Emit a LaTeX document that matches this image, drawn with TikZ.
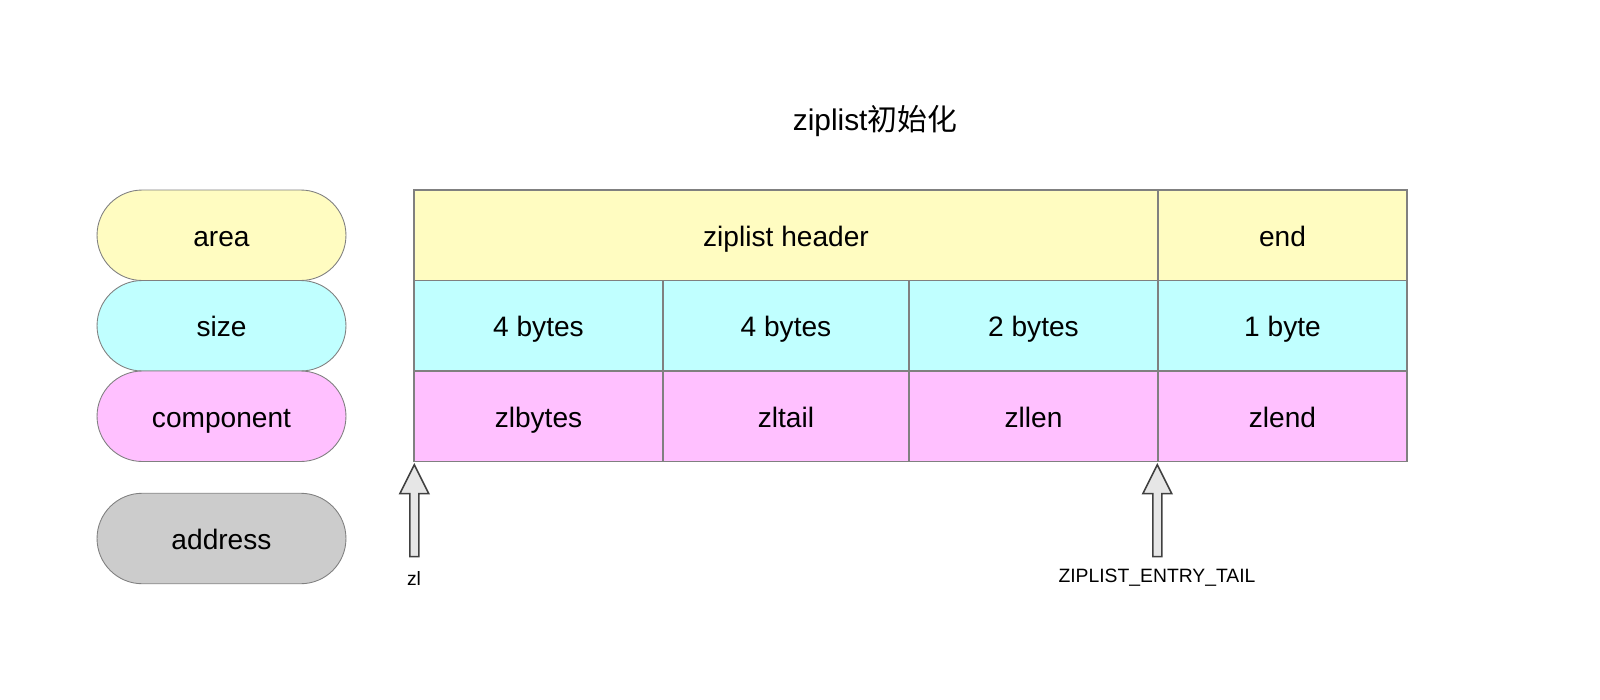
\documentclass[tikz,border=0pt]{standalone}
\usepackage{fontspec}
\setmainfont{Liberation Sans}
\newfontfamily\cjk{Noto Sans CJK SC}
\usetikzlibrary{shapes.misc}
\definecolor{zlyellow}{RGB}{255,252,193}
\definecolor{zlcyan}{RGB}{192,255,255}
\definecolor{zlpink}{RGB}{255,192,255}
\definecolor{zlgrey}{RGB}{204,204,204}
\definecolor{zlline}{RGB}{128,128,128}
\definecolor{zlarrow}{RGB}{230,230,230}
\definecolor{zldark}{RGB}{64,64,64}
\tikzset{
  cell/.style={draw=zlline, line width=0.8pt, minimum height=1.81cm, inner sep=0pt,
    text height=15pt, text depth=2.5pt, font=\fontsize{16}{19}\selectfont},
  pill/.style={rounded rectangle, draw=zlline, line width=0.5pt, minimum width=4.98cm,
    minimum height=1.81cm, inner sep=0pt, text height=15pt, text depth=2.5pt,
    font=\fontsize{16}{19}\selectfont},
  blockarrow/.style={draw=zldark, fill=zlarrow, line width=0.9pt, line join=miter},
  small/.style={font=\fontsize{11}{13}\selectfont}
}

\begin{document}
\begin{tikzpicture}[x=0.02cm, y=-0.02cm]

  \useasboundingbox (0,0) rectangle (1600,700);

  \node [font=\fontsize{17}{20}\selectfont] (title) at (875,121) {ziplist{\cjk 初始化}};

  % legend:
  \node [pill, fill=zlyellow] (area) at (221.5,235.25) {area};
  \node [pill, fill=zlcyan] (size) at (221.5,325.75) {size};
  \node [pill, fill=zlpink] (component) at (221.5,416.25) {component};
  \node [pill, fill=zlgrey] (address) at (221.5,538.5) {address};

  % area row:
  \node [cell, fill=zlyellow, minimum width=14.88cm] (header) at (786,235.25) {ziplist header};
  \node [cell, fill=zlyellow, minimum width=4.98cm] (end) at (1282.5,235.25) {end};

  % size row:
  \node [cell, fill=zlcyan, minimum width=4.98cm] (sz1) at (538.5,325.75) {4 bytes};
  \node [cell, fill=zlcyan, minimum width=4.92cm] (sz2) at (786,325.75) {4 bytes};
  \node [cell, fill=zlcyan, minimum width=4.98cm] (sz3) at (1033.5,325.75) {2 bytes};
  \node [cell, fill=zlcyan, minimum width=4.98cm] (sz4) at (1282.5,325.75) {1 byte};

  % component row:
  \node [cell, fill=zlpink, minimum width=4.98cm] (zlbytes) at (538.5,416.25) {zlbytes};
  \node [cell, fill=zlpink, minimum width=4.92cm] (zltail) at (786,416.25) {zltail};
  \node [cell, fill=zlpink, minimum width=4.98cm] (zllen) at (1033.5,416.25) {zllen};
  \node [cell, fill=zlpink, minimum width=4.98cm] (zlend) at (1282.5,416.25) {zlend};

  % address arrows:
  \coordinate (zltip) at ([xshift=0.02cm, yshift=-0.05cm]zlbytes.south west);
  \coordinate (tailtip) at ([yshift=-0.05cm]zlend.south west);

  \foreach \t in {zltip,tailtip}
    \draw [blockarrow] (\t) -- ++(14.5,29) -- ++(-10,0) -- ++(0,63) -- ++(-9,0)
      -- ++(0,-63) -- ++(-10,0) -- cycle;

  \node [small] (zl) at (414,578) {zl};
  \node [small] (taillabel) at (1157,578) {ZIPLIST\_ENTRY\_TAIL};

\end{tikzpicture}
\end{document}
